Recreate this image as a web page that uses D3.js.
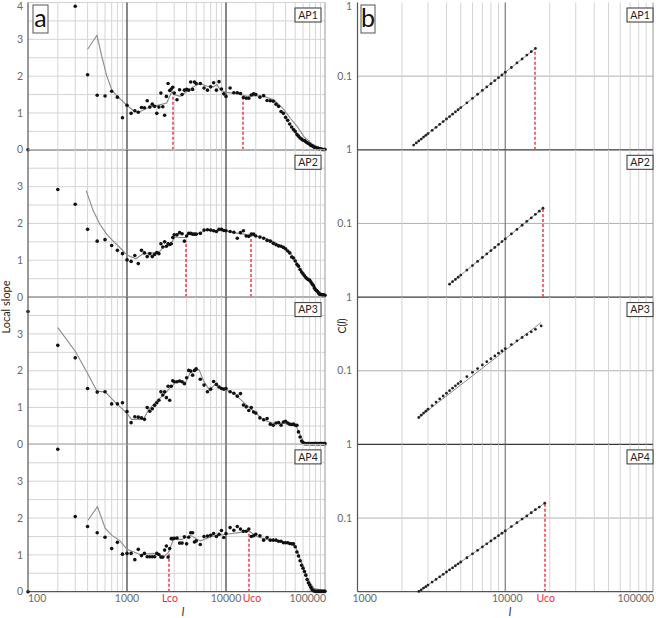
<!DOCTYPE html>
<html lang="en">
<head>
<meta charset="UTF-8">
<title>Local slope and C(l) for AP1-AP4</title>
<script src="https://d3js.org/d3.v7.min.js"></script>
<style>
  body { margin: 0; background: #fff; }
  svg { font-family: Lato, "Open Sans", sans-serif; }
</style>
</head>
<body>
<div id="chart"></div>
<script>
// scales l where the local slope was computed (panel a)
const scaleL = [100,200,300,400,500,600,700,800,900,1000,
  1100,1200,1300,1400,1500,1600,1700,1800,1900,2000,
  2100,2200,2300,2400,2500,2600,2700,2800,2900,3000,
  3200,3400,3600,3800,4000,4200,4400,4600,4800,5000,
  5500,6000,6500,7000,7500,8000,8500,9000,9500,10000,
  11000,12000,13000,14000,15000,16000,17000,18000,19000,20000,
  22000,24000,26000,28000,30000,32000,34000,36000,38000,40000,
  42000,44000,46000,48000,50000,52000,54000,56000,58000,60000,
  62000,64000,66000,68000,70000,72000,74000,76000,78000,80000,
  82000,84000,86000,88000,90000,92000,94000,96000,98000,100000];

const slopeAP1 = [0,null,3.9,2.04,1.48,1.46,1.59,1.43,0.87,1.21,
  0.99,1.06,1.02,1.15,1.14,1.33,1.16,1.24,1.18,0.99,
  1.16,1.54,1.17,0.94,1.45,1.80,1.61,1.65,1.70,1.54,
  1.36,1.63,1.50,1.62,1.64,1.62,1.84,1.64,1.84,1.80,
  1.80,1.68,1.62,1.71,1.82,1.62,1.85,1.65,1.52,1.45,
  1.68,1.55,1.55,1.53,1.42,1.40,1.40,1.49,1.52,1.50,
  1.43,1.47,1.34,1.33,1.32,1.24,1.18,1.04,0.99,0.88,
  0.80,0.70,0.62,0.55,0.50,0.42,0.37,0.32,0.29,0.26,
  0.25,0.22,0.19,0.17,0.15,0.12,0.11,0.09,0.07,0.06,
  0.05,0.04,0.04,0.03,0.02,0.02,0.01,0.01,0.01,0.01];

const slopeAP2 = [null,2.92,2.52,1.84,1.52,1.56,1.40,1.27,1.18,1.01,
  0.97,1.13,0.91,1.27,1.20,1.10,1.18,1.10,1.16,1.21,
  1.18,1.45,1.36,1.50,1.38,1.45,1.43,1.45,1.62,1.69,
  1.69,1.75,1.72,1.52,1.66,1.73,1.73,1.71,1.71,1.71,
  1.73,1.82,1.83,1.82,1.80,1.78,1.84,1.84,1.81,1.80,
  1.78,1.76,1.60,1.75,1.80,1.66,1.65,1.71,1.71,1.66,
  1.63,1.60,1.54,1.52,1.46,1.42,1.39,1.38,1.35,1.31,
  1.25,1.20,1.09,1.06,0.98,0.89,0.84,0.75,0.68,0.63,
  0.58,0.53,0.50,0.47,0.46,0.41,0.36,0.32,0.25,0.20,
  0.18,0.15,0.11,0.08,0.07,0.07,0.06,0.06,0.05,0.05];

const slopeAP3 = [3.61,2.69,2.35,1.52,1.42,1.43,1.10,1.10,1.13,0.89,
  0.59,0.75,0.74,0.72,0.68,1.00,0.90,0.97,1.06,1.13,
  1.20,1.43,1.34,1.43,1.27,1.58,1.20,1.58,1.73,1.70,
  1.70,1.72,1.70,1.65,1.81,2.01,1.99,1.88,2.01,2.05,
  1.77,1.61,1.43,1.50,1.71,1.63,1.56,1.52,1.50,1.52,
  1.43,1.39,1.31,1.38,1.07,1.02,0.92,1.00,0.88,0.85,
  0.72,0.67,0.70,0.55,0.52,0.58,0.59,0.52,0.61,0.63,
  0.58,0.55,0.54,0.55,0.52,0.52,0.34,0.20,0.09,0.05,
  0.02,0.02,0.02,0.02,0.02,0.02,0.02,0.02,0.02,0.02,
  0.02,0.02,0.02,0.02,0.02,0.02,0.02,0.02,0.02,0.02];

const slopeAP4 = [0,3.87,2.04,1.77,1.60,1.48,1.17,1.34,1.02,1.04,
  1.04,0.87,1.15,0.98,1.04,0.95,0.95,0.95,0.95,1.04,
  1.01,0.94,0.94,1.13,1.24,0.94,1.17,1.44,1.44,1.45,
  1.46,1.32,1.32,1.49,1.30,1.48,1.60,1.60,1.35,1.38,
  1.28,1.50,1.51,1.53,1.58,1.50,1.56,1.66,1.47,1.58,
  1.74,1.67,1.77,1.70,1.64,1.64,1.70,1.50,1.52,1.56,
  1.52,1.40,1.47,1.40,1.40,1.40,1.37,1.37,1.33,1.33,
  1.33,1.31,1.30,1.30,1.22,1.08,0.97,0.84,0.72,0.64,
  0.55,0.45,0.33,0.24,0.18,0.12,0.06,0.03,0.02,0.01,
  0.01,0.01,0.01,0.01,0.01,0.01,0.01,0.01,0.01,0.01];

// smoothed local slope (grey line), [l, slope]
const smoothAP1 = [[400,2.73],[497,3.11],[555,2.55],[622,2.02],[704,1.62],[798,1.45],[1000,1.21],[1160,1.06],
  [1313,1.02],[1587,1.13],[1995,1.2],[2520,1.27],[2840,1.59],[2950,1.5],[3450,1.45],[4025,1.59],[4700,1.71],
  [5500,1.8],[6400,1.73],[7500,1.71],[8100,1.77],[8750,1.62],[10000,1.56],[11950,1.54],[13970,1.5],[16330,1.45],
  [19080,1.47],[24100,1.45],[30440,1.36],[38460,1.09],[44900,0.85],[52500,0.63],[61200,0.36],[74200,0.16],
  [90400,0.04],[100000,0]];
const smoothAP2 = [[387,2.89],[455,2.35],[532,1.98],[622,1.71],[726,1.52],[850,1.34],[1000,1.14],[1230,1.04],
  [1460,1.18],[1850,1.2],[2160,1.25],[2340,1.36],[2740,1.45],[3070,1.63],[3450,1.62],[3860,1.62],[4170,1.75],
  [5060,1.71],[6410,1.82],[8090,1.8],[10000,1.8],[11950,1.75],[15090,1.71],[19080,1.66],[24100,1.62],[30440,1.5],
  [38460,1.34],[44900,1.2],[50500,1.0],[56600,0.72],[63600,0.54],[71500,0.41],[80400,0.26],[90400,0.11],[100000,0.02]];
const smoothAP3 = [[200,3.17],[300,2.53],[390,1.98],[497,1.45],[603,1.42],[786,1.11],[1000,0.84],[1110,0.68],
  [1470,0.68],[1640,0.93],[2000,1.18],[2340,1.34],[2740,1.54],[3200,1.71],[3900,1.68],[4350,1.95],[5350,2.03],
  [5920,1.73],[6800,1.48],[7800,1.63],[10000,1.48],[11950,1.39],[15090,1.14],[19080,0.9],[24100,0.66],[30440,0.57],
  [38460,0.57],[50500,0.52],[56600,0.25],[62200,0.02],[100000,0.01]];
const smoothAP4 = [[404,1.94],[503,2.31],[603,1.72],[704,1.53],[850,1.38],[1000,1.15],[1360,1.01],[1850,1.04],
  [2340,0.94],[2620,1.07],[2950,1.42],[3590,1.42],[4350,1.53],[5500,1.38],[7500,1.51],[10000,1.56],[13970,1.61],
  [16980,1.65],[20500,1.5],[26050,1.42],[35500,1.37],[44900,1.31],[50500,1.22],[56600,0.87],[66100,0.37],
  [77100,0.09],[100000,0.02]];

// cut-offs: [l, slope at the top of the dashed mark]
const lcoA = [[2900,1.45],[3900,1.52],null,[2650,1.1]];
const ucoA = [[14800,1.40],[17800,1.69],null,[17000,1.65]];

// correlation integral C(l) (panel b), [l, C]
const corrAP1 = [[2400,0.0116],[2500,0.0124],[2600,0.0132],[2700,0.0140],[2800,0.0149],[2900,0.0157],[3000,0.0166],
  [3200,0.0184],[3400,0.0202],[3600,0.0222],[3800,0.0242],[4000,0.0262],[4200,0.0283],[4400,0.0305],[4600,0.0328],
  [4800,0.0350],[5000,0.0374],[5500,0.0435],[6000,0.0500],[6500,0.0568],[7000,0.0639],[7500,0.0713],[8000,0.0790],
  [8500,0.0870],[9000,0.0953],[9500,0.104],[10000,0.113],[11000,0.131],[12000,0.151],[13000,0.171],[14000,0.193],
  [15000,0.215],[16000,0.238]];
const corrAP2 = [[4200,0.0150],[4400,0.0162],[4600,0.0174],[4800,0.0186],[5000,0.0199],[5500,0.0233],[6000,0.0268],
  [6500,0.0305],[7000,0.0345],[7500,0.0386],[8000,0.0428],[8500,0.0473],[9000,0.0519],[9500,0.0567],[10000,0.0617],
  [11000,0.0721],[12000,0.0830],[13000,0.0946],[14000,0.107],[15000,0.119],[16000,0.133],[17000,0.147],[18000,0.161]];
const corrAP3 = [[2600,0.0232],[2700,0.0249],[2800,0.0266],[2900,0.0283],[3000,0.0301],[3200,0.0337],[3400,0.0375],
  [3600,0.0414],[3800,0.0454],[4000,0.0495],[4200,0.0537],[4400,0.0580],[4600,0.0624],[4800,0.0668],[5000,0.0714],
  [5500,0.0831],[6000,0.0951],[6500,0.107],[7000,0.120],[7500,0.133],[8000,0.146],[8500,0.159],[9000,0.173],
  [9500,0.186],[10000,0.200],[11000,0.227],[12000,0.255],[13000,0.283],[14000,0.310],[15000,0.338],[16000,0.365],
  [17500,0.406]];
const fitAP3 = [[2600,0.0232],[17500,0.452]];
const corrAP4 = [[2600,0.0101],[2700,0.0106],[2800,0.0112],[2900,0.0117],[3000,0.0123],[3200,0.0135],[3400,0.0147],
  [3600,0.0159],[3800,0.0172],[4000,0.0185],[4200,0.0198],[4400,0.0211],[4600,0.0225],[4800,0.0239],[5000,0.0253],
  [5500,0.0289],[6000,0.0327],[6500,0.0365],[7000,0.0406],[7500,0.0447],[8000,0.0489],[8500,0.0533],[9000,0.0577],
  [9500,0.0622],[10000,0.0669],[11000,0.0766],[12000,0.0865],[13000,0.0968],[14000,0.107],[15000,0.118],
  [16000,0.130],[17000,0.141],[18500,0.159]];
const ucoB = [true, true, false, true];

const panelNames = ["AP1", "AP2", "AP3", "AP4"];
const slopeTicks = [0, 1, 2, 3, 4];
const corrTicks = [1, 0.1];

const slopes = [slopeAP1, slopeAP2, slopeAP3, slopeAP4];
const smooths = [smoothAP1, smoothAP2, smoothAP3, smoothAP4];
const corrs = [corrAP1, corrAP2, corrAP3, corrAP4];

const width = 656, height = 618;
const rowTop = 2.5, rowH = 147.3;
const gridLight = "#d4d4d4", gridDark = "#3a3a3a", tickCol = "#6a6a6a", red = "#e8303a";

const svg = d3.select("#chart").append("svg")
    .attr("width", width)
    .attr("height", height);

const xA = d3.scaleLog().domain([100, 100000]).range([28, 325]);
const xB = d3.scaleLog().domain([1000, 100000]).range([357.5, 653]);
const isDecade = v => Math.abs(Math.log10(v) - Math.round(Math.log10(v))) < 1e-9;

// red dashed cut-off mark
function cutoff(g, px, y0, y1) {
    g.append("line")
        .attr("x1", Math.round(px)).attr("x2", Math.round(px))
        .attr("y1", y0).attr("y2", y1)
        .attr("stroke", "#ec4650").attr("stroke-width", 1.6)
        .attr("stroke-dasharray", "3,2");
}

panelNames.forEach((name, i) => {
    const top = rowTop + i * rowH, bottom = top + rowH;
    const yA = d3.scaleLinear().domain([0, 4]).range([bottom, top]);
    const yB = d3.scaleLog().domain([0.01, 1]).range([bottom, top]);
    const g = svg.append("g");

    // ---- panel a grid
    g.selectAll(".ha").data(d3.range(0.5, 4.01, 0.5)).join("line")
        .attr("x1", xA.range()[0]).attr("x2", xA.range()[1])
        .attr("y1", d => yA(d)).attr("y2", d => yA(d))
        .attr("stroke", gridLight).attr("stroke-width", 1);
    g.selectAll(".va").data(xA.ticks().filter(d => d > 100)).join("line")
        .attr("x1", d => xA(d)).attr("x2", d => xA(d))
        .attr("y1", top).attr("y2", bottom)
        .attr("stroke", d => (isDecade(d) && d < 100000) ? gridDark : (d === 100000 ? "#9a9a9a" : gridLight))
        .attr("stroke-width", d => (isDecade(d) && d < 100000) ? 1.2 : 1);

    // ---- panel b grid
    g.append("line")
        .attr("x1", xB.range()[0]).attr("x2", xB.range()[1])
        .attr("y1", yB(0.1)).attr("y2", yB(0.1))
        .attr("stroke", "#b0b0b0");
    g.selectAll(".vb").data(xB.ticks().filter(d => d > 1000)).join("line")
        .attr("x1", d => xB(d)).attr("x2", d => xB(d))
        .attr("y1", top).attr("y2", bottom)
        .attr("stroke", d => d === 10000 ? "#7a7a7a" : (d === 100000 ? "#9a9a9a" : gridLight))
        .attr("stroke-width", d => d === 10000 ? 1.2 : 1);

    // row separators
    [[xA, yA(0)], [xB, yB(0.01)]].forEach(([x, y]) => {
        g.append("line")
            .attr("x1", x.range()[0]).attr("x2", x.range()[1])
            .attr("y1", y).attr("y2", y)
            .attr("stroke", i === 3 ? "#555" : gridDark).attr("stroke-width", 1.3);
    });

    // y tick labels
    g.selectAll(".ta").data(slopeTicks.filter(d => d < 4 || i === 0)).join("text")
        .attr("x", 23).attr("y", d => Math.max(yA(d), 6))
        .attr("dy", "0.35em").attr("text-anchor", "end")
        .attr("font-size", 10.5).attr("fill", tickCol)
        .text(d => d);
    g.selectAll(".tb").data(corrTicks).join("text")
        .attr("x", 352).attr("y", d => Math.max(yB(d), 6))
        .attr("dy", "0.35em").attr("text-anchor", "end")
        .attr("font-size", 10.5).attr("fill", tickCol)
        .text(d => d);

    // ---- panel a data
    const pts = scaleL.map((l, k) => [l, slopes[i][k]]).filter(d => d[1] !== null);
    const lineA = d3.line().x(d => xA(d[0])).y(d => yA(d[1]));
    g.append("path").datum(smooths[i])
        .attr("d", lineA).attr("fill", "none")
        .attr("stroke", "#8a8a8a").attr("stroke-width", 1.1);
    [lcoA[i], ucoA[i]].forEach(c => {
        if (c) cutoff(g, xA(c[0]), yA(0), yA(c[1]));
    });
    g.selectAll(".da").data(pts).join("circle")
        .attr("cx", d => xA(d[0])).attr("cy", d => yA(d[1]))
        .attr("r", 1.8).attr("fill", "#111");

    // ---- panel b data
    const lineB = d3.line().x(d => xB(d[0])).y(d => yB(d[1]));
    const corr = corrs[i];
    const last = corr[corr.length - 1];
    if (ucoB[i]) cutoff(g, xB(last[0]), yB(0.01), yB(last[1]));
    g.append("path").datum(i === 2 ? fitAP3 : [corr[0], last])
        .attr("d", lineB).attr("fill", "none")
        .attr("stroke", "#8a8a8a").attr("stroke-width", 1);
    g.selectAll(".db").data(corr).join("circle")
        .attr("cx", d => xB(d[0])).attr("cy", d => yB(d[1]))
        .attr("r", 1.4).attr("fill", "#222");

    // panel name boxes
    [[295, 26], [627, 26]].forEach(([bx, bw]) => {
        g.append("rect")
            .attr("x", bx).attr("y", top + 5.5)
            .attr("width", bw).attr("height", 14)
            .attr("fill", "#fff").attr("stroke", "#333").attr("stroke-width", 1);
        g.append("text")
            .attr("x", bx + bw / 2).attr("y", top + 12.5).attr("dy", "0.35em")
            .attr("text-anchor", "middle").attr("font-size", 10.5).attr("fill", "#222")
            .text(name);
    });
});

// left axes
[[xA, 28], [xB, 357.5]].forEach(([x, px]) => {
    svg.append("line")
        .attr("x1", px).attr("x2", px)
        .attr("y1", rowTop).attr("y2", rowTop + 4 * rowH)
        .attr("stroke", "#555").attr("stroke-width", 1.2);
});

// x tick labels
const xLabelsA = [[100, "100", "start"], [1000, "1000", "middle"], [10000, "10000", "middle"], [100000, "100000", "end"]];
const xLabelsB = [[1000, "1000", "start"], [10000, "10000", "middle"], [100000, "100000", "end"]];
const bottomY = rowTop + 4 * rowH;
svg.selectAll(".xa").data(xLabelsA).join("text")
    .attr("x", d => xA(d[0]) + (d[2] === "end" ? 1 : 0)).attr("y", bottomY + 10)
    .attr("text-anchor", d => d[2]).attr("font-size", 10.5).attr("fill", tickCol)
    .text(d => d[1]);
svg.selectAll(".xb").data(xLabelsB).join("text")
    .attr("x", d => xB(d[0]) + (d[2] === "start" ? -5 : (d[2] === "middle" ? 2 : 1))).attr("y", bottomY + 10)
    .attr("text-anchor", d => d[2]).attr("font-size", 10.5).attr("fill", tickCol)
    .text(d => d[1]);
[[xA, 2720, "Lco"], [xA, 18300, "Uco"], [xB, 18800, "Uco"]].forEach(([x, l, t]) => {
    svg.append("text")
        .attr("x", x(l)).attr("y", bottomY + 10)
        .attr("text-anchor", "middle").attr("font-size", 10.5).attr("fill", red)
        .text(t);
});

// axis titles
svg.append("text")
    .attr("transform", "translate(10,307) rotate(-90)")
    .attr("text-anchor", "middle").attr("font-size", 11).attr("fill", "#222")
    .text("Local slope");
const cTitle = svg.append("text")
    .attr("transform", "translate(346,326) rotate(-90)")
    .attr("text-anchor", "middle").attr("font-size", 10.5).attr("fill", "#222");
cTitle.append("tspan").text("C(");
cTitle.append("tspan").attr("font-style", "italic").text("l");
cTitle.append("tspan").text(")");
[183, 510].forEach(px => {
    svg.append("text")
        .attr("x", px).attr("y", 616)
        .attr("text-anchor", "middle").attr("font-size", 11)
        .attr("font-style", "italic").attr("fill", "#222")
        .text("l");
});

// panel letters
[[33, 15, "a"], [361, 14, "b"]].forEach(([bx, bw, t]) => {
    svg.append("rect")
        .attr("x", bx).attr("y", 5).attr("width", bw).attr("height", 28)
        .attr("fill", "#fff").attr("stroke", "#555").attr("stroke-width", 1);
    svg.append("text")
        .attr("x", bx + bw / 2).attr("y", 27)
        .attr("text-anchor", "middle").attr("font-size", 25).attr("fill", "#111")
        .text(t);
});
</script>
</body>
</html>
